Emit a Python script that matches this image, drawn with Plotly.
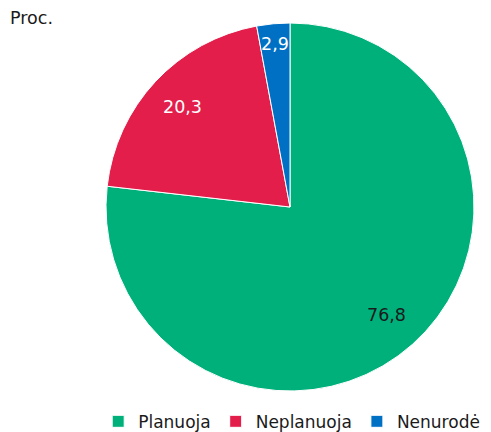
import math
import plotly.graph_objects as go

labels = ["Planuoja", "Neplanuoja", "Nenurodė"]
values = [76.8, 20.3, 2.9]
text_labels = ["76,8", "20,3", "2,9"]
colors = ["#00b07b", "#e31e4b", "#0070c4"]
text_colors = ["#1a1a1a", "#ffffff", "#ffffff"]
label_radius = [0.79, 0.80, 0.89]  # fraction of the radius where value labels sit

W, H = 491, 432
cx, cy, r = 290, 207, 184

fig = go.Figure(go.Pie(
    labels=labels, values=values,
    textinfo="none",
    marker=dict(colors=colors, line=dict(color="white", width=1)),
    sort=False, direction="clockwise", rotation=0,
    hoverinfo="label+value",
    domain=dict(x=[(cx - r) / W, (cx + r) / W], y=[1 - (cy + r) / H, 1 - (cy - r) / H]),
))

annotations = [dict(text="Proc.", x=8 / W, y=1 - 18 / H, xref="paper", yref="paper",
                    xanchor="left", yanchor="middle", showarrow=False,
                    font=dict(size=17.5, color="#1a1a1a"))]
total = sum(values)
cum = 0.0
for v, t, c, rf in zip(values, text_labels, text_colors, label_radius):
    mid = (cum + v / 2) / total * 2 * math.pi
    cum += v
    px = cx + rf * r * math.sin(mid)
    py = cy - rf * r * math.cos(mid)
    annotations.append(dict(text=t, x=px / W, y=1 - py / H, xref="paper", yref="paper",
                            xanchor="center", yanchor="middle", showarrow=False,
                            font=dict(size=17.5, color=c)))

fig.update_layout(
    width=W, height=H,
    margin=dict(l=0, r=0, t=0, b=0, autoexpand=False),
    paper_bgcolor="white",
    font=dict(family="DejaVu Sans", size=17, color="#1a1a1a"),
    showlegend=True,
    legend=dict(orientation="h", x=0.2, y=-0.018, xanchor="left", yanchor="bottom",
                font=dict(size=17), itemwidth=30, traceorder="normal"),
    annotations=annotations,
)

fig.write_html("out.html", config={"displayModeBar": False},
               post_script="document.body.style.margin='0';")
